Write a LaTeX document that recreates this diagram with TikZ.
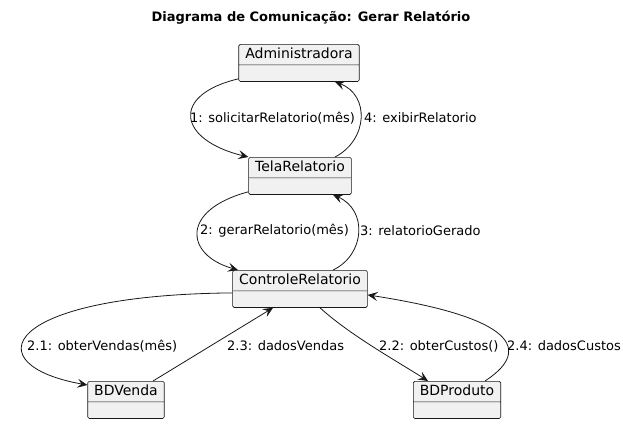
\documentclass[tikz,border=0pt]{standalone}
\usepackage{fontspec}
\setmainfont{DejaVu Sans}
\usetikzlibrary{shapes.multipart,arrows.meta}
\definecolor{boxfill}{HTML}{F1F1F1}
\definecolor{boxline}{HTML}{181818}

\begin{document}
\begin{tikzpicture}[x=1pt,y=-1pt,
    objbox/.style={rectangle split, rectangle split parts=2, anchor=north,
        draw=boxline, line width=0.6pt, fill=boxfill, rounded corners=1.5pt,
        inner xsep=6.5pt, inner ysep=3.25pt,
        font=\fontsize{14}{16}\selectfont, text height=10.5pt, text depth=3pt,
        rectangle split empty part height=9.5pt, rectangle split empty part depth=0pt},
    msg/.style={draw=boxline, line width=0.8pt, -{Stealth[length=10pt,width=9pt,inset=4pt]}},
    msglabel/.style={anchor=west, inner sep=0pt, font=\fontsize{13}{15}\selectfont}]
        \useasboundingbox (0,0) rectangle (623,424);

        % Title
        \node[font=\fontsize{13}{15}\selectfont\bfseries] (title) at (311,18) {Diagrama de Comunicação: Gerar Relatório};

        % Objects
        \node[objbox] (adm) at (299,44) {Administradora \nodepart{second}};
        \node[objbox] (tela) at (300,157) {TelaRelatorio \nodepart{second}};
        \node[objbox] (ctrl) at (300,270) {ControleRelatorio \nodepart{second}};
        \node[objbox] (bdvenda) at (126,381) {BDVenda \nodepart{second}};
        \node[objbox] (bdproduto) at (457,381) {BDProduto \nodepart{second}};

        % Administradora <-> TelaRelatorio
        \draw[msg] ([yshift=3pt]adm.south west) .. controls (170,95) and (178,140) .. (tela.north west);
        \draw[msg] ([xshift=35pt]tela.north) .. controls (368,140) and (370,95) .. ([xshift=36pt]adm.south);
        \node[msglabel] (m1) at (190,118) {1: solicitarRelatorio(mês)};
        \node[msglabel] (m4) at (364,118) {4: exibirRelatorio};

        % TelaRelatorio <-> ControleRelatorio
        \draw[msg] ([yshift=3pt]tela.south west) .. controls (180,210) and (185,255) .. ([xshift=-62pt]ctrl.north);
        \draw[msg] ([xshift=33pt]ctrl.north) .. controls (365,255) and (368,210) .. ([xshift=33pt]tela.south);
        \node[msglabel] (m2) at (200,231) {2: gerarRelatorio(mês)};
        \node[msglabel] (m3) at (360,231) {3: relatorioGerado};

        % ControleRelatorio <-> BDVenda
        \draw[msg] ([yshift=-4pt]ctrl.west) .. controls (0,295) and (-25,365) .. ([yshift=-4pt]bdvenda.north west);
        \draw[msg] ([xshift=27pt]bdvenda.north) -- ([xshift=-27pt]ctrl.south);
        \node[msglabel] (m21) at (27,346) {2.1: obterVendas(mês)};
        \node[msglabel] (m23) at (227,346) {2.3: dadosVendas};

        % ControleRelatorio <-> BDProduto
        \draw[msg] ([xshift=20pt]ctrl.south) .. controls (350,335) and (395,360) .. ([xshift=-29pt]bdproduto.north);
        \draw[msg] ([xshift=28pt]bdproduto.north) .. controls (525,355) and (530,320) .. ([yshift=-6pt]ctrl.east);
        \node[msglabel] (m22) at (379,346) {2.2: obterCustos()};
        \node[msglabel] (m24) at (507,346) {2.4: dadosCustos};
    \end{tikzpicture}
\end{document}
